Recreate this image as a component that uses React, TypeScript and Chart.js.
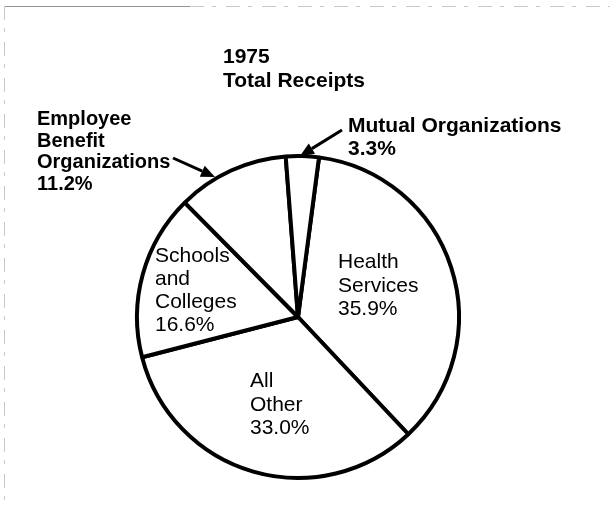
import { useEffect, useRef } from "react";
import { Chart, registerables } from "chart.js";

Chart.register(...registerables);

// ---- data ----
const categories = [
  "Health Services",
  "All Other",
  "Schools and Colleges",
  "Employee Benefit Organizations",
  "Mutual Organizations",
];
const shares = [35.9, 33.0, 16.6, 11.2, 3.3];
const titleLines = ["1975", "Total Receipts"];
const labelLines = [
  ["Health", "Services"],
  ["All", "Other"],
  ["Schools", "and", "Colleges"],
  ["Employee", "Benefit", "Organizations"],
  ["Mutual Organizations"],
];

// ---- layout (positions / styles) ----
const FONT = '"Liberation Sans", Arial, Helvetica, sans-serif';
const labelLayout = [
  { x: 338, y: 268, lh: 23.5, weight: "normal", size: 21 },
  { x: 250, y: 387, lh: 23.5, weight: "normal", size: 21 },
  { x: 155, y: 262, lh: 23, weight: "normal", size: 21 },
  { x: 37, y: 125, lh: 21.7, weight: "bold", size: 20 },
  { x: 348, y: 132, lh: 23, weight: "bold", size: 21 },
];
const titleLayout = { x: 223, y: 63, lh: 24, size: 21 };
const arrows = [
  { from: [173, 158], to: [215, 177] },
  { from: [342, 130], to: [300, 156] },
];

const annotate = {
  id: "annotate",
  afterDraw(chart: any) {
    const ctx = chart.ctx as CanvasRenderingContext2D;
    ctx.save();
    // faint scan border
    ctx.strokeStyle = "rgba(60,60,60,0.55)";
    ctx.lineWidth = 1;
    ctx.setLineDash([]);
    ctx.beginPath();
    ctx.moveTo(5, 6.5);
    ctx.lineTo(190, 6.5);
    ctx.stroke();
    ctx.strokeStyle = "rgba(120,120,120,0.4)";
    ctx.setLineDash([14, 8, 4, 10]);
    ctx.beginPath();
    ctx.moveTo(190, 6.5);
    ctx.lineTo(610, 6.5);
    ctx.stroke();
    ctx.beginPath();
    ctx.moveTo(4.5, 6);
    ctx.lineTo(4.5, 508);
    ctx.stroke();
    ctx.setLineDash([]);

    ctx.fillStyle = "#000";
    ctx.textAlign = "left";
    ctx.textBaseline = "alphabetic";
    // title
    ctx.font = `bold ${titleLayout.size}px ${FONT}`;
    titleLines.forEach((t, i) =>
      ctx.fillText(t, titleLayout.x, titleLayout.y + i * titleLayout.lh)
    );
    // labels
    labelLines.forEach((lines, i) => {
      const L = labelLayout[i];
      ctx.font = `${L.weight} ${L.size}px ${FONT}`;
      const all = [...lines, `${shares[i].toFixed(1)}%`];
      all.forEach((t, j) => ctx.fillText(t, L.x, L.y + j * L.lh));
    });
    // arrows
    ctx.strokeStyle = "#000";
    ctx.lineWidth = 3;
    arrows.forEach((a) => {
      const [x1, y1] = a.from;
      const [x2, y2] = a.to;
      const ang = Math.atan2(y2 - y1, x2 - x1);
      const hl = 14;
      const hw = 6;
      const bx = x2 - hl * Math.cos(ang);
      const by = y2 - hl * Math.sin(ang);
      ctx.beginPath();
      ctx.moveTo(x1, y1);
      ctx.lineTo(bx, by);
      ctx.stroke();
      ctx.beginPath();
      ctx.moveTo(x2, y2);
      ctx.lineTo(bx + hw * Math.sin(ang), by - hw * Math.cos(ang));
      ctx.lineTo(bx - hw * Math.sin(ang), by + hw * Math.cos(ang));
      ctx.closePath();
      ctx.fill();
    });
    ctx.restore();
  },
};

export default function App() {
  const ref = useRef<HTMLCanvasElement | null>(null);
  useEffect(() => {
    if (!ref.current) return;
    const chart = new Chart(ref.current, {
      type: "pie",
      data: {
        labels: categories,
        datasets: [
          {
            data: shares,
            backgroundColor: "#ffffff",
            borderColor: "#000000",
            borderWidth: 4,
            borderAlign: "center",
          },
        ],
      },
      options: {
        responsive: false,
        animation: false,
        events: [],
        rotation: 7.5,
        radius: 161,
        layout: { padding: { left: 0, right: 18, top: 126, bottom: 0 } },
        plugins: {
          legend: { display: false },
          tooltip: { enabled: false },
          title: { display: false },
        },
      } as any,
      plugins: [annotate],
    });
    return () => chart.destroy();
  }, []);
  return (
    <div style={{ position: "absolute", left: 0, top: 0, width: 614, height: 508, background: "#fff" }}>
      <canvas ref={ref} width={614} height={508} style={{ display: "block" }} />
    </div>
  );
}
